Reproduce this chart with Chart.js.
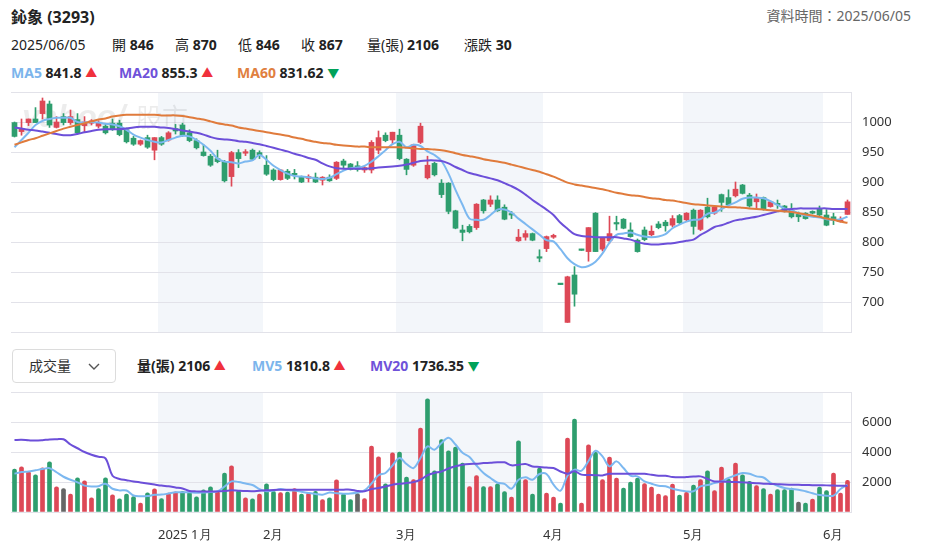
<!DOCTYPE html>
<html><head><meta charset="utf-8">
<script src="https://cdn.jsdelivr.net/npm/chart.js@4.4.1/dist/chart.umd.min.js"></script>
<style>
body{margin:0;width:931px;height:554px;position:relative;background:#fff;font-family:"Noto Sans","Noto Sans CJK TC",sans-serif;color:#222;overflow:hidden}
.t{position:absolute;white-space:nowrap;line-height:20px}
.b{font-weight:700}
.up{color:#f0313c;font-size:12px}
.dn{color:#00a25a;font-size:12px}
canvas{position:absolute;left:0}
</style></head><body>
<div class="t b" style="left:11px;top:7px;font-size:16px">鈊象 (3293)</div>
<div class="t" style="right:20px;top:6px;font-size:14px;color:#666">資料時間：2025/06/05</div>

<div class="t" style="left:11px;top:35px;font-size:14px">2025/06/05</div>
<div class="t" style="left:112px;top:35px;font-size:14px">開 <span class="b">846</span></div>
<div class="t" style="left:175px;top:35px;font-size:14px">高 <span class="b">870</span></div>
<div class="t" style="left:238px;top:35px;font-size:14px">低 <span class="b">846</span></div>
<div class="t" style="left:301px;top:35px;font-size:14px">收 <span class="b">867</span></div>
<div class="t" style="left:367px;top:35px;font-size:14px">量(張) <span class="b">2106</span></div>
<div class="t" style="left:464px;top:35px;font-size:14px">漲跌 <span class="b">30</span></div>

<div class="t b" style="left:11px;top:63px;font-size:14px"><span style="color:#7cb5ec">MA5</span> 841.8 <span class="up">▲</span></div>
<div class="t b" style="left:119px;top:63px;font-size:14px"><span style="color:#6f52d9">MA20</span> 855.3 <span class="up">▲</span></div>
<div class="t b" style="left:237px;top:63px;font-size:14px"><span style="color:#e0803f">MA60</span> 831.62 <span class="dn">▼</span></div>

<div style="position:absolute;left:12px;top:349px;width:104px;height:34px;border:1px solid #dcdcdc;border-radius:4px;box-sizing:border-box"></div>
<div class="t" style="left:29px;top:356px;font-size:14px;color:#333">成交量</div>
<svg style="position:absolute;left:88px;top:363px" width="12" height="8"><polyline points="1,1 6,6 11,1" fill="none" stroke="#555" stroke-width="1.4"/></svg>

<div class="t b" style="left:137px;top:356px;font-size:14px">量(張) 2106 <span class="up">▲</span></div>
<div class="t b" style="left:252px;top:356px;font-size:14px"><span style="color:#7cb5ec">MV5</span> 1810.8 <span class="up">▲</span></div>
<div class="t b" style="left:370px;top:356px;font-size:14px"><span style="color:#6f52d9">MV20</span> 1736.35 <span class="dn">▼</span></div>

<canvas id="c1" width="931" height="248" style="top:86px"></canvas>
<canvas id="c2" width="931" height="168" style="top:386px"></canvas>
<script>
const dates = [
 "2024/12/03","2024/12/04","2024/12/05","2024/12/06","2024/12/09","2024/12/10","2024/12/11","2024/12/12","2024/12/13","2024/12/16",
 "2024/12/17","2024/12/18","2024/12/19","2024/12/20","2024/12/23","2024/12/24","2024/12/25","2024/12/26","2024/12/27","2024/12/30",
 "2024/12/31","2025/01/02","2025/01/03","2025/01/06","2025/01/07","2025/01/08","2025/01/09","2025/01/10","2025/01/13","2025/01/14",
 "2025/01/15","2025/01/16","2025/01/17","2025/01/20","2025/01/21","2025/01/22","2025/02/03","2025/02/04","2025/02/05","2025/02/06",
 "2025/02/07","2025/02/10","2025/02/11","2025/02/12","2025/02/13","2025/02/14","2025/02/17","2025/02/18","2025/02/19","2025/02/20",
 "2025/02/21","2025/02/24","2025/02/25","2025/02/26","2025/02/27","2025/03/03","2025/03/04","2025/03/05","2025/03/06","2025/03/07",
 "2025/03/10","2025/03/11","2025/03/12","2025/03/13","2025/03/14","2025/03/17","2025/03/18","2025/03/19","2025/03/20","2025/03/21",
 "2025/03/24","2025/03/25","2025/03/26","2025/03/27","2025/03/28","2025/03/31","2025/04/01","2025/04/02","2025/04/07","2025/04/08",
 "2025/04/09","2025/04/10","2025/04/11","2025/04/14","2025/04/15","2025/04/16","2025/04/17","2025/04/18","2025/04/21","2025/04/22",
 "2025/04/23","2025/04/24","2025/04/25","2025/04/28","2025/04/29","2025/04/30","2025/05/02","2025/05/05","2025/05/06","2025/05/07",
 "2025/05/08","2025/05/09","2025/05/12","2025/05/13","2025/05/14","2025/05/15","2025/05/16","2025/05/19","2025/05/20","2025/05/21",
 "2025/05/22","2025/05/23","2025/05/26","2025/05/27","2025/05/28","2025/05/29","2025/06/02","2025/06/03","2025/06/04","2025/06/05"];

const open = [
 999,984,999,1005,1014,1030,991,1009,999,1004,
 994,998,993,993,998,998,987,973,963,974,
 953,974,970,989,995,982,969,950,943,939,
 934,909,949,948,953,949,928,920,904,918,
 914,909,906,908,903,908,906,935,930,927,
 920,920,953,978,970,978,938,928,966,907,
 931,898,898,852,820,826,824,870,863,870,
 858,846,802,808,814,774,789,808,730,666,
 745,787,784,848,788,802,831,838,820,803,
 820,812,830,833,828,844,837,853,821,858,
 848,879,874,877,895,878,867,874,859,864,
 860,853,846,848,851,856,845,842,834,846];
const high = [
 1000,1005,1005,1024,1040,1035,1009,1014,1020,1014,
 1009,1004,1002,996,1005,1003,990,976,970,978,
 974,976,984,996,998,987,972,962,946,953,
 936,951,954,954,955,952,944,922,921,921,
 921,910,912,915,909,912,934,938,931,934,
 926,969,985,982,983,988,939,963,998,943,
 933,904,899,853,828,829,864,871,877,877,
 862,851,821,819,815,787,810,813,731,743,
 759,788,824,849,807,843,843,839,832,805,
 825,827,834,836,844,846,849,855,854,873,
 860,880,887,900,896,881,880,875,868,870,
 861,864,850,849,852,860,854,848,842,870];
const low = [
 975,978,994,999,1005,991,990,995,996,981,
 984,995,990,980,986,977,965,961,961,956,
 937,961,968,980,976,967,955,943,926,932,
 900,893,924,944,936,939,911,902,903,904,
 905,899,900,899,895,901,904,922,920,918,
 916,915,947,967,964,937,912,926,964,905,
 910,874,847,822,802,815,821,848,859,851,
 837,839,801,803,802,767,784,806,729,666,
 693,786,768,784,785,798,820,822,808,783,
 802,810,822,818,825,830,835,813,819,840,
 846,851,860,875,880,858,856,853,858,856,
 850,840,834,838,847,844,827,829,833,846];
const close = [
 976,989,1005,999,1035,995,1000,999,1009,982,
 1000,1002,998,982,988,979,967,963,969,958,
 974,963,982,985,978,969,957,944,928,934,
 902,949,939,950,938,945,913,904,920,906,
 912,900,909,900,908,902,933,928,921,921,
 924,966,974,969,983,939,921,962,993,928,
 912,879,851,823,816,817,863,852,870,852,
 838,845,808,814,803,773,809,811,729,742,
 713,786,824,784,807,814,830,823,809,784,
 804,818,824,827,839,832,848,826,853,842,
 858,866,862,888,881,860,873,854,867,862,
 851,842,842,839,848,845,828,836,837,867];

const ma5 = [
 958,970,982,995,1002,1005,1007,1007,1007,1000,
 999,1000,999,997,996,993,987,979,974,970,
 967,966,970,974,977,976,970,962,952,939,
 934,933,931,934,936,945,937,927,920,914,
 910,909,908,906,905,907,913,919,923,924,
 927,934,943,953,963,967,958,962,960,951,
 945,935,914,887,862,839,837,837,845,854,
 854,849,839,830,821,812,803,801,788,773,
 763,758,760,767,781,799,812,814,816,812,
 809,808,809,813,823,829,834,837,838,847,
 849,855,861,866,872,874,874,873,868,862,
 856,853,848,844,842,841,838,837,838,842];
const ma20 = [
 991,989,987,986,984,982,980,978,978,980,
 983,985,987,988,988,988,989,991,992,992,
 992,991,990,988,986,984,982,979,975,972,
 971,970,968,967,965,963,960,957,954,951,
 947,944,940,937,931,926,923,922,922,922,
 922,923,924,925,926,927,929,932,935,936,
 936,935,931,925,920,915,912,909,906,903,
 898,893,887,879,870,862,854,845,832,822,
 813,810,809,808,808,808,808,806,804,800,
 797,796,796,797,798,800,802,804,812,818,
 825,828,832,836,838,840,842,845,848,851,
 854,855,856,856,856,856,856,855,855,855];
const ma60 = [
 962,966,970,973,977,981,985,989,992,995,
 998,1001,1004,1006,1009,1011,1012,1012,1012,1012,
 1012,1011,1011,1011,1010,1008,1006,1004,1001,998,
 996,994,991,989,987,985,983,981,979,977,
 974,972,969,967,965,964,962,961,960,959,
 959,958,958,958,958,958,957,956,955,955,
 954,953,951,948,945,943,941,938,936,934,
 932,929,926,923,920,917,913,909,904,899,
 896,894,892,890,888,885,882,880,878,877,
 875,873,872,870,869,867,865,863,862,861,
 860,859,858,858,857,856,855,854,853,852,
 851,850,848,846,844,842,839,837,834,832];

const volume = [
 2860,3010,2690,2470,2940,3340,1680,1555,1200,2280,
 2080,940,1555,2280,1150,880,1200,1020,600,1280,
 1540,890,1265,1350,1375,1320,1010,1480,1680,1375,
 2600,3075,1430,940,880,1200,1880,1375,1290,1330,
 1555,1200,1255,1375,820,940,2150,1210,820,1230,
 890,4400,3670,1875,3940,4000,2330,2155,5600,7540,
 2750,4820,4085,4330,3260,1690,2420,1690,1690,1870,
 1355,1000,4750,2155,1200,2930,1265,1000,600,4930,
 6200,600,4485,3975,2155,3660,2265,1600,2000,2265,
 1890,1665,1200,1090,1865,1130,1310,1800,2155,2750,
 1420,3000,2200,3265,2485,2040,1755,1555,1200,1490,
 1490,1600,665,600,865,1665,1420,2600,1265,2106];
// 1 = up day (red), -1 = down day (green), 0 = unchanged (grey)
const volDir = [
 -1,1,1,-1,1,-1,1,0,1,-1,
 1,1,-1,-1,1,-1,-1,-1,1,-1,
 1,-1,1,1,-1,-1,-1,-1,-1,1,
 -1,1,-1,1,-1,1,-1,-1,1,-1,
 1,-1,1,-1,1,-1,1,-1,-1,0,
 1,1,1,-1,1,-1,-1,1,1,-1,
 -1,-1,-1,-1,-1,1,1,-1,1,-1,
 -1,1,-1,1,-1,-1,1,1,-1,1,
 -1,1,1,-1,1,1,1,-1,-1,-1,
 1,1,1,1,1,-1,1,-1,1,-1,
 1,1,-1,1,-1,-1,1,-1,1,-1,
 -1,-1,0,-1,1,-1,-1,1,1,1];
const mv5 = [
 2550,2660,2700,2780,2860,2920,2650,2350,2150,1980,
 1760,1700,1720,1880,1550,1440,1430,1100,1050,1060,
 1150,1160,1230,1310,1320,1320,1280,1300,1330,1380,
 1700,2040,2000,1900,1800,1530,1380,1420,1530,1450,
 1430,1350,1270,1200,1150,1300,1250,1220,1230,1300,
 1440,1900,2450,2600,3100,3600,3200,2930,3600,4375,
 4150,4600,4950,4500,3950,3665,3100,2600,2265,1950,
 1870,1555,2150,2310,2150,2530,2530,1820,1420,2420,
 2820,2750,3400,4085,3710,3040,3375,2930,2420,2375,
 2040,1887,1750,1710,1555,1450,1375,1380,1710,1800,
 1930,2040,2265,2450,2600,2550,2375,2300,1950,1750,
 1600,1530,1490,1380,1250,1130,1090,1090,1530,1811];
const mv20 = [
 4800,4810,4780,4760,4790,4840,4850,4850,4500,4250,
 4000,3820,3680,3580,2420,2200,2120,2040,1970,1900,
 1830,1760,1710,1640,1570,1400,1375,1375,1375,1375,
 1400,1443,1420,1400,1390,1420,1443,1470,1480,1490,
 1490,1490,1490,1490,1490,1490,1490,1490,1490,1400,
 1380,1530,1600,1700,1820,1880,1930,1990,2150,2450,
 2600,2700,2900,3050,3150,3200,3220,3260,3280,3310,
 3310,3110,3150,3200,3040,3000,2960,2930,2700,2550,
 2710,2490,2470,2450,2440,2550,2550,2550,2550,2550,
 2550,2480,2420,2420,2330,2310,2330,2360,2375,2200,
 2040,2030,2010,2000,1975,1950,1920,1890,1870,1850,
 1830,1820,1810,1800,1790,1780,1775,1760,1750,1736];

const priceTicks = [700,750,800,850,900,950,1000];
const volTicks = [2000,4000,6000];

const UP = '#dd4856', DOWN = '#2e9e6e', FLAT = '#666666';
const GRID = '#e2e2e9';
const FONT = {family:'"Noto Sans"', size:13};

const monthOf = d => +d.split('/')[1];
const monthLabels = dates.map((d,i) => {
  if (i === 0 || monthOf(d) === monthOf(dates[i-1])) return '';
  const m = monthOf(d);
  return (m === 1 ? d.split('/')[0] + ' ' : '') + m + '月';
});

const bandPlugin = {
  id: 'bands',
  beforeDraw(chart) {
    const {ctx, chartArea: a, scales: {x}} = chart;
    const w = x.width / dates.length;
    ctx.save();
    ctx.fillStyle = '#f3f6fa';
    let i = 0;
    while (i < dates.length) {
      const m = monthOf(dates[i]);
      let j = i;
      while (j < dates.length && monthOf(dates[j]) === m) j++;
      if (m % 2 === 1) {
        const x0 = x.getPixelForValue(i) - w / 2, x1 = x.getPixelForValue(j - 1) + w / 2;
        ctx.fillRect(x0, a.top, x1 - x0, a.bottom - a.top);
      }
      i = j;
    }
    ctx.restore();
  }
};
const watermark = {
  id: 'wm',
  beforeDatasetsDraw(chart) {
    const ctx = chart.ctx, a = chart.chartArea;
    ctx.save();
    ctx.fillStyle = 'rgba(0,0,0,0.075)';
    ctx.font = 'italic bold 32px "Liberation Sans"';
    ctx.textBaseline = 'alphabetic';
    ctx.fillText('yahoo/', a.left + 11, a.top + 35);
    ctx.font = '26px "Noto Sans CJK TC"';
    ctx.fillText('股市', a.left + 125, a.top + 35);
    ctx.restore();
  }
};

const candleColor = dates.map((_, i) => close[i] >= open[i] ? UP : DOWN);
const volColor = volDir.map(d => d > 0 ? UP : d < 0 ? DOWN : FLAT);
const lineDs = (data, color) => ({type:'line', data, borderColor:color, borderWidth:2, pointRadius:0, tension:0.35, order:0});
const fixY = s => { s.width = 80; s.paddingTop = 0; s.paddingBottom = 0; };

new Chart(document.getElementById('c1'), {
  type: 'bar',
  data: {
    labels: dates,
    datasets: [
      lineDs(ma60, '#e07b3c'),
      lineDs(ma20, '#6c4fd9'),
      lineDs(ma5, '#7cb8f0'),
      {data: dates.map((_, i) => [low[i], high[i]]), backgroundColor: candleColor, barThickness: 1, grouped: false, order: 2},
      {data: dates.map((_, i) => [open[i], close[i]]), backgroundColor: candleColor, barThickness: 5, minBarLength: 1.5, grouped: false, order: 1}
    ]
  },
  options: {
    responsive: false, animation: false, devicePixelRatio: 1,
    layout: {padding: {left: 11, top: 6, bottom: 2, right: 0}},
    plugins: {legend: {display: false}, tooltip: {enabled: false}},
    scales: {
      x: {display: false, offset: true, grid: {display: false}},
      y: {
        position: 'right', min: 650, max: 1050,
        afterFit: fixY,
        ticks: {stepSize: 50, padding: 11, color: '#333', font: FONT, callback: v => priceTicks.includes(v) ? String(v) : ''},
        grid: {color: GRID, drawTicks: false},
        border: {color: GRID}
      }
    }
  },
  plugins: [bandPlugin, watermark]
});

new Chart(document.getElementById('c2'), {
  type: 'bar',
  data: {
    labels: dates,
    datasets: [
      lineDs(mv20, '#6c4fd9'),
      lineDs(mv5, '#7cb8f0'),
      {data: volume, backgroundColor: volColor, barThickness: 4, borderRadius: 2, order: 1}
    ]
  },
  options: {
    responsive: false, animation: false, devicePixelRatio: 1,
    layout: {padding: {left: 11, top: 6, bottom: 0, right: 0}},
    plugins: {legend: {display: false}, tooltip: {enabled: false}},
    scales: {
      x: {
        offset: true, grid: {display: false}, border: {display: false},
        afterFit(s) { s.height = 42; s.paddingLeft = 0; s.paddingRight = 0; },
        ticks: {autoSkip: false, maxRotation: 0, minRotation: 0, align: 'start', labelOffset: -3.5, padding: 7,
                color: '#333', font: FONT, callback: (v, i) => monthLabels[i]}
      },
      y: {
        position: 'right', min: 0, max: 8000,
        afterFit: fixY,
        ticks: {stepSize: 2000, padding: 11, color: '#333', font: FONT, callback: v => volTicks.includes(v) ? String(v) : ''},
        grid: {color: GRID, drawTicks: false},
        border: {color: GRID}
      }
    }
  },
  plugins: [bandPlugin]
});
</script>
</body></html>
